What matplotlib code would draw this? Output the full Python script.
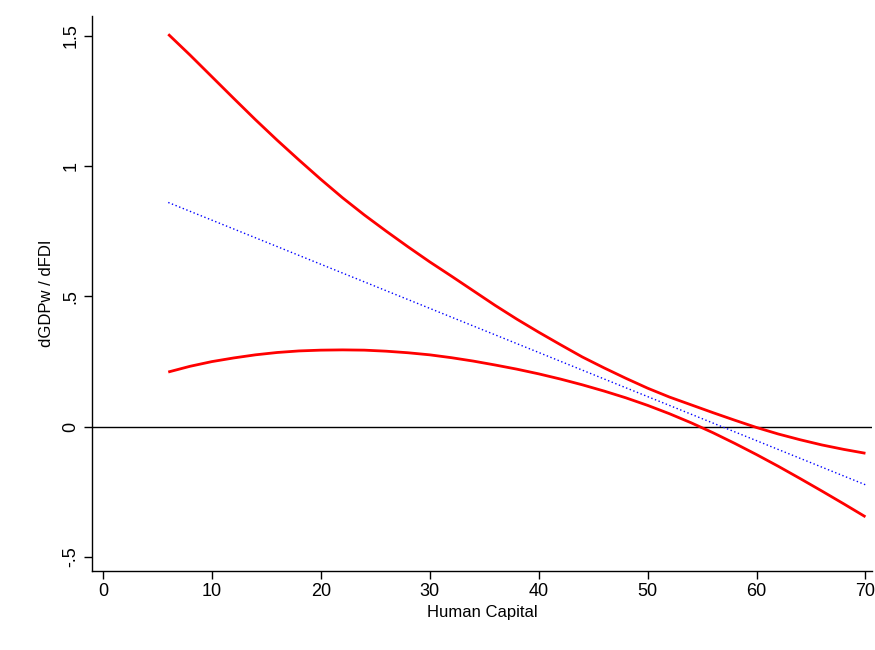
import matplotlib
matplotlib.use("Agg")
import matplotlib.pyplot as plt
from matplotlib import font_manager

human_capital = [6, 8, 10, 12, 14, 16, 18, 20, 22, 24, 26, 28, 30, 32, 34, 36, 38,
                 40, 42, 44, 46, 48, 50, 52, 54, 56, 58, 60, 62, 64, 66, 68, 70]
upper_ci = [1.507, 1.427, 1.344, 1.261, 1.179, 1.100, 1.024, 0.950, 0.879, 0.813, 0.751,
            0.691, 0.633, 0.578, 0.522, 0.466, 0.413, 0.363, 0.315, 0.268, 0.226, 0.186,
            0.148, 0.114, 0.084, 0.054, 0.025, -0.003, -0.028, -0.050, -0.070, -0.087, -0.102]
lower_ci = [0.210, 0.232, 0.250, 0.264, 0.276, 0.285, 0.291, 0.294, 0.295, 0.294, 0.290,
            0.284, 0.276, 0.265, 0.252, 0.237, 0.221, 0.203, 0.183, 0.161, 0.137, 0.111,
            0.082, 0.050, 0.015, -0.023, -0.064, -0.107, -0.152, -0.199, -0.247, -0.296, -0.346]
effect_x = [6, 70]
effect_y = [0.861, -0.223]

xticks = [0, 10, 20, 30, 40, 50, 60, 70]
xticklabels = ["0", "10", "20", "30", "40", "50", "60", "70"]
yticks = [-0.5, 0, 0.5, 1, 1.5]
yticklabels = ["-.5", "0", ".5", "1", "1.5"]

names = {f.name for f in font_manager.fontManager.ttflist}
fam = "Liberation Sans Narrow" if "Liberation Sans Narrow" in names else "Liberation Sans"
plt.rcParams["font.family"] = [fam, "DejaVu Sans"]

fig = plt.figure(figsize=(8.75, 6.5), dpi=100)
ax = fig.add_axes([92/875, 1-571/650, (872-92)/875, (571-16)/650])

ax.axhline(0, color="black", lw=1.0, zorder=1)
ax.plot(human_capital, upper_ci, color="#ff0000", lw=2.0, solid_capstyle="butt",
        solid_joinstyle="round", zorder=3)
ax.plot(human_capital, lower_ci, color="#ff0000", lw=2.0, solid_capstyle="butt",
        solid_joinstyle="round", zorder=3)
ax.plot(effect_x, effect_y, color="#0000ff", lw=1.0, linestyle=(0, (1, 1.8)), zorder=2)

ax.set_xlim(-1.0, 70.6)
ax.set_ylim(-0.554, 1.577)

ax.set_xticks(xticks)
ax.set_xticklabels(xticklabels)
ax.set_yticks(yticks)
ax.set_yticklabels(yticklabels, rotation=90, va="center")

ax.tick_params(axis="both", direction="out", length=6, width=1, labelsize=13, colors="black", pad=3)
ax.spines["top"].set_visible(False)
ax.spines["right"].set_visible(False)
for s in ("left", "bottom"):
    ax.spines[s].set_linewidth(1.0)

ax.set_xlabel("Human Capital", fontsize=12, labelpad=3)
ax.set_ylabel("dGDPw / dFDI", fontsize=12, labelpad=6)

fig.savefig("out.png", dpi=100)
